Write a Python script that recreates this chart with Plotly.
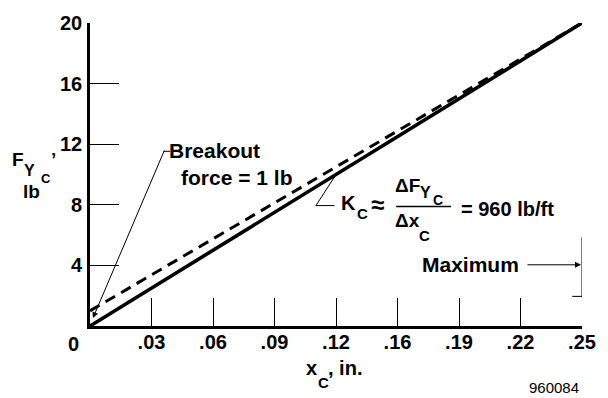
import plotly.graph_objects as go

# Deflection (in.) and force (lb)
x_defl = [0.0, 0.25]
force_linear = [0.0, 20.0]          # K_c line through the origin
force_breakout = [1.0, 20.0]        # includes the 1 lb breakout force

x_tick_vals = [k / 32 for k in range(1, 9)]
x_tick_text = [".03", ".06", ".09", ".12", ".16", ".19", ".22", ".25"]
y_tick_vals = [0, 4, 8, 12, 16, 20]
y_tick_text = ["", "4", "8", "12", "16", "20"]

W, H = 608, 398
L, R, T, B = 90, 15, 19, 72
XMAX, YMAX = 0.25, 20.0
PW, PH = W - L - R, H - T - B

FONT = "Liberation Sans, Arial, sans-serif"


def px2x(px):
    return (px - L) / PW


def py2y(py):
    return (T + PH - py) / PH


def dx(px):
    return px2x(px) * XMAX


def dy(py):
    return py2y(py) * YMAX


fig = go.Figure()
fig.add_trace(go.Scatter(x=x_defl, y=force_breakout, mode="lines",
                         line=dict(color="black", width=3, dash="11px,7px"),
                         cliponaxis=False, hoverinfo="skip"))
fig.add_trace(go.Scatter(x=x_defl, y=force_linear, mode="lines",
                         line=dict(color="black", width=3.6),
                         cliponaxis=False, hoverinfo="skip"))

ann = []


def text(px, py, s, size=21, weight="bold", xanchor="left"):
    ann.append(dict(x=px2x(px), y=py2y(py), xref="paper", yref="paper", text=s,
                    showarrow=False, xanchor=xanchor, yanchor="middle",
                    borderpad=0, borderwidth=0,
                    font=dict(family=FONT, size=size, color="black", weight=weight)))


# origin label shared by both axes
text(73, 344, "0", size=20, xanchor="center")

# y-axis title F_Yc', lb
text(10, 157, "F", 19)
text(23, 168, "Y", 16)
text(40, 177, "C", 13)
text(50, 157, "’", 19)
text(30, 190, "lb", 19, xanchor="center")

# x-axis title x_c, in.
text(311, 369, "x", 20)
text(323, 383, "C", 15)
text(333, 369, ", in.", 20)

# breakout force callout
text(171, 148, "Breakout")
text(183, 176, "force = 1 lb")
ann.append(dict(x=dx(93), y=dy(318), xref="x", yref="y", text="",
                showarrow=True, ax=165 - 93, ay=149 - 318,
                arrowhead=2, arrowsize=1.2, arrowwidth=1, arrowcolor="black"))

# stiffness callout: K_c ≈ ΔF_Yc / Δx_c = 960 lb/ft
text(347, 201, "K", 20)
text(363, 212, "C", 15)
text(377, 203, "≈", 24)
text(402, 184, "ΔF", 19)
text(427, 191, "Y", 16)
text(441, 198, "C", 14)
text(402, 219, "Δx", 19)
text(426, 234, "C", 15)
text(469, 207, "= 960 lb/ft", 20)

# maximum travel marker
text(529, 264, "Maximum", xanchor="right")
ann.append(dict(x=XMAX, y=dy(264), xref="x", yref="y", text="",
                showarrow=True, ax=-56, ay=0, standoff=1,
                arrowhead=2, arrowsize=1.2, arrowwidth=1, arrowcolor="black"))

# drawing number
text(590, 388, "960084", 15, weight="normal", xanchor="right")

shapes = [
    # breakout leader stub
    dict(type="line", xref="x", yref="y", x0=dx(165), y0=dy(149), x1=dx(172), y1=dy(149),
         line=dict(color="black", width=1)),
    # K_c leader (starts on the linear curve at x = 0.125)
    dict(type="path", xref="x", yref="y",
         path=f"M {0.125} {0.125 * force_linear[1] / x_defl[1]} L {dx(321)} {dy(204)} L {dx(340)} {dy(204)}",
         line=dict(color="black", width=1)),
    # fraction bar
    dict(type="line", xref="x", yref="y", x0=dx(403), y0=dy(205), x1=dx(459), y1=dy(205),
         line=dict(color="black", width=1.5)),
    # maximum travel line and stop bar
    dict(type="line", xref="x", yref="y", x0=XMAX, y0=dy(236), x1=XMAX, y1=dy(296),
         line=dict(color="black", width=1)),
    dict(type="line", xref="x", yref="y", x0=dx(583), y0=dy(296), x1=dx(604), y1=dy(296),
         line=dict(color="black", width=1)),
]

tick_font = dict(family=FONT, size=20, color="black", weight="bold")

fig.update_layout(
    width=W, height=H,
    margin=dict(l=L, r=R, t=T, b=B, pad=0),
    paper_bgcolor="white", plot_bgcolor="white",
    showlegend=False,
    font=dict(family=FONT, color="black"),
    annotations=ann, shapes=shapes,
    xaxis=dict(range=[0, XMAX], showgrid=False, zeroline=False,
               showline=True, linecolor="black", linewidth=2.6,
               ticks="inside", ticklen=28, tickwidth=1, tickcolor="black",
               tickvals=x_tick_vals, ticktext=x_tick_text, tickfont=tick_font,
               ticklabelstandoff=-4, fixedrange=True),
    yaxis=dict(range=[0, YMAX], showgrid=False, zeroline=False,
               showline=True, linecolor="black", linewidth=2.6,
               ticks="inside", ticklen=29, tickwidth=1, tickcolor="black",
               tickvals=y_tick_vals, ticktext=y_tick_text, tickfont=tick_font,
               ticklabelstandoff=1, fixedrange=True),
)

fig.write_html("out.html", config=dict(displayModeBar=False))
